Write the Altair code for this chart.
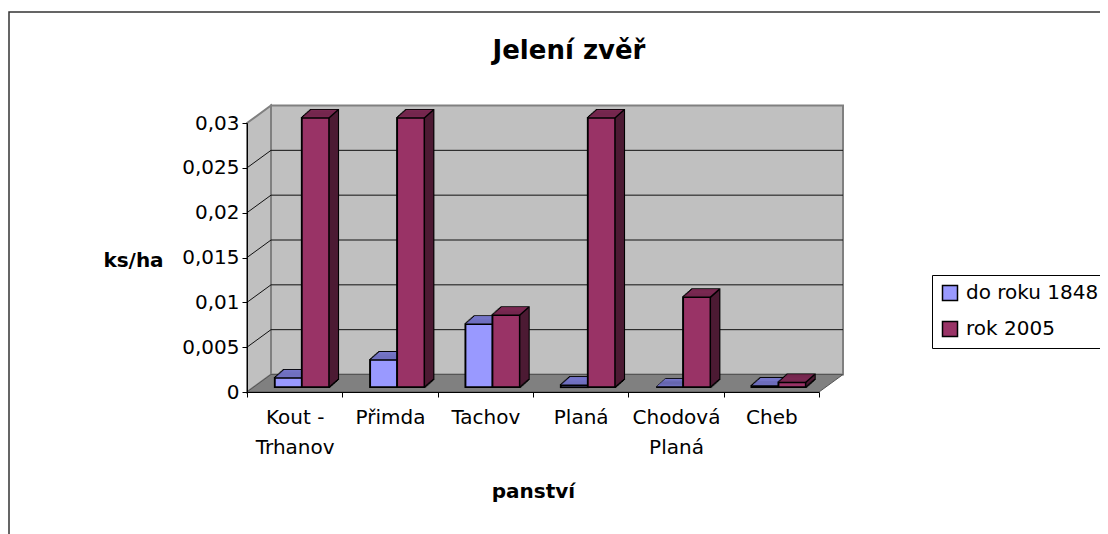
import json
import altair as alt
import pandas as pd

# ---------------- data ----------------
chart_title = "Jelení zvěř"
categories = ["Kout - Trhanov", "Přimda", "Tachov", "Planá", "Chodová Planá", "Cheb"]
label_lines = [["Kout -", "Trhanov"], ["Přimda"], ["Tachov"], ["Planá"], ["Chodová", "Planá"], ["Cheb"]]
series_names = ["do roku 1848", "rok 2005"]
values_1848 = [0.001, 0.003, 0.007, 0.0002, 0.0, 0.0001]
values_2005 = [0.03, 0.03, 0.008, 0.03, 0.01, 0.0005]
y_ticks = [0, 0.005, 0.01, 0.015, 0.02, 0.025, 0.03]
grid_values = [0.005, 0.01, 0.015, 0.02, 0.025]

df = pd.DataFrame({
    "panstvi": categories * 2,
    "series": [series_names[0]] * len(categories) + [series_names[1]] * len(categories),
    "value": values_1848 + values_2005,
})
grid_df = pd.DataFrame({"v": grid_values})
title_df = pd.DataFrame({"t": [chart_title]})

# ---------------- geometry / style ----------------
W, H = 572, 269          # front plane of the 3D box
DX, DY = 24, 17.5        # depth of the box
BAR_W = 27
BAR_LIFT = 5
EX, EY = 9, 8            # depth of the bars
N = 9
bar_centers = [-6.2, 20.8]
front_colors = ["#9999FF", "#993366"]
top_colors = ["#7575C8", "#7A2952"]
side_colors = ["#4C4C80", "#4C1A33"]
FONT = "DejaVu Sans"

one = pd.DataFrame({"d": [0]})
left_wall_df = pd.DataFrame({"px": [0, DX], "top": [0, -DY], "bot": [H, H - DY]})
floor_df = pd.DataFrame({"px": [0, DX, W, W + DX],
                         "top": [H, H - DY, H - DY, H - DY],
                         "bot": [H, H, H, H - DY]})

label_expr = "".join(
    f"datum.value == {json.dumps(c, ensure_ascii=False)} ? {json.dumps(l, ensure_ascii=False)} : "
    for c, l in zip(categories, label_lines)
) + "datum.label"


def xcat(axis=None):
    return alt.X("panstvi:N", sort=categories,
                 scale=alt.Scale(domain=categories, paddingInner=0, paddingOuter=0),
                 axis=axis)


def yval(axis=None):
    return alt.Y("value:Q", scale=alt.Scale(domain=[0, 0.03], nice=False, zero=True), axis=axis)


def px_x(field):
    return alt.X(f"{field}:Q", scale=alt.Scale(domain=[0, W], range=[0, W], nice=False, zero=False), axis=None)


def px_y(field):
    return alt.Y(f"{field}:Q", scale=alt.Scale(domain=[0, H], range=[0, H], nice=False, zero=False), axis=None)


x_axis = alt.Axis(
    title="panství", tickBand="extent", grid=False, domainColor="black", domainWidth=1,
    tickColor="black", tickSize=5, labelAngle=0, labelFont=FONT, labelFontSize=20,
    labelColor="black", labelPadding=10, labelLineHeight=30, labelExpr=label_expr,
    labelOverlap=False, titleFont=FONT, titleFontSize=20, titleFontWeight="bold",
    titleColor="black", titleY=105.5, titleBaseline="alphabetic", zindex=1,
)
y_axis = alt.Axis(
    title="ks/ha", values=y_ticks, format="~g", labelExpr="replace(datum.label, '.', ',')",
    grid=False, domainColor="black", tickColor="black", tickSize=5, labelPadding=3,
    labelFont=FONT, labelFontSize=20, labelColor="black",
    titleFont=FONT, titleFontSize=20, titleFontWeight="bold", titleColor="black",
    titleAngle=0, titleX=-114, titleY=143, titleAlign="center", titleBaseline="alphabetic",
    zindex=1,
)
legend = alt.Legend(
    title=None, orient="none", legendX=685, legendY=152, strokeColor="black", padding=8,
    symbolType="square", symbolSize=225, symbolStrokeColor="black", symbolStrokeWidth=1.5,
    symbolOpacity=1, labelFont=FONT, labelFontSize=20, labelColor="black", labelOffset=6,
    rowPadding=14, labelExpr="datum.label + '\u00a0\u00a0\u00a0\u00a0\u00a0'",
)
color = alt.Color("series:N", scale=alt.Scale(domain=series_names, range=front_colors), legend=legend)

layers = []
# outer chart border
layers.append(alt.Chart(one).mark_rect(fillOpacity=0, stroke="#333333", strokeWidth=1.5).encode(
    x=alt.value(-238), x2=alt.value(W + 400), y=alt.value(-111), y2=alt.value(H + 300)))
# chart title
layers.append(alt.Chart(title_df).mark_text(font=FONT, fontSize=26, fontWeight="bold", color="black",
                                            align="center", baseline="alphabetic").encode(
    text="t:N", x=alt.value(322), y=alt.value(-64)))
# back wall
layers.append(alt.Chart(one).mark_rect(fill="#C0C0C0", stroke="#808080", strokeWidth=2).encode(
    x=alt.value(DX), x2=alt.value(W + DX), y=alt.value(-DY), y2=alt.value(H - DY)))
# left wall
layers.append(alt.Chart(left_wall_df).mark_area(fill="#C0C0C0", stroke="#808080", strokeWidth=2).encode(
    x=px_x("px"), y=px_y("top"), y2=alt.Y2("bot")))
# floor
layers.append(alt.Chart(floor_df).mark_area(fill="#808080", stroke="#555555", strokeWidth=1).encode(
    x=px_x("px"), y=px_y("top"), y2=alt.Y2("bot")))
# back wall grid lines
layers.append(alt.Chart(grid_df).mark_rule(color="#111111", strokeWidth=1, yOffset=-DY).encode(
    y=alt.Y("v:Q", scale=alt.Scale(domain=[0, 0.03], nice=False, zero=True), axis=None),
    x=alt.value(DX), x2=alt.value(W + DX)))
# left wall grid lines
layers.append(alt.Chart(grid_df).mark_rule(color="#111111", strokeWidth=1, y2Offset=-DY).encode(
    y=alt.Y("v:Q", scale=alt.Scale(domain=[0, 0.03], nice=False, zero=True), axis=None),
    y2=alt.Y2("v:Q"), x=alt.value(0), x2=alt.value(DX)))

for i in range(2):
    base = alt.Chart(df).transform_filter(alt.datum.series == series_names[i])
    c = bar_centers[i]
    # outline of the prism
    for k in range(N + 1):
        ox = c + k * EX / N
        oy = -BAR_LIFT - k * EY / N
        layers.append(base.mark_bar(size=BAR_W, xOffset=ox, yOffset=oy, y2Offset=oy,
                                    fill=side_colors[i], stroke="black", strokeWidth=2.2)
                      .encode(x=xcat(), y=yval()))
    # side fill
    for k in range(N + 1):
        ox = c + k * EX / N
        oy = -BAR_LIFT - k * EY / N
        layers.append(base.mark_bar(size=BAR_W, xOffset=ox, yOffset=oy, y2Offset=oy,
                                    fill=side_colors[i], strokeWidth=0)
                      .encode(x=xcat(), y=yval()))
    # top face strips
    for k in range(N):
        ox = c + (k + 0.5) * EX / N
        y_top = -BAR_LIFT - (k + 1) * EY / N - 0.15
        y_bot = -BAR_LIFT - k * EY / N + 0.15
        layers.append(base.mark_bar(size=BAR_W, xOffset=ox, yOffset=y_top, y2Offset=y_bot,
                                    fill=top_colors[i], strokeWidth=0)
                      .encode(x=xcat(), y=yval(), y2=alt.Y2("value:Q")))
    # edge between top and side
    layers.append(base.mark_rule(color="black", strokeWidth=1.5,
                                 xOffset=c + BAR_W / 2, x2Offset=c + BAR_W / 2 + EX,
                                 yOffset=-BAR_LIFT, y2Offset=-BAR_LIFT - EY)
                  .encode(x=xcat(), x2=alt.X2("panstvi:N"), y=yval(), y2=alt.Y2("value:Q")))
    # front face
    layers.append(base.mark_bar(size=BAR_W, xOffset=c, yOffset=-BAR_LIFT, y2Offset=-BAR_LIFT,
                                stroke="black", strokeWidth=1.5, opacity=1)
                  .encode(x=xcat(x_axis if i == 0 else None),
                          y=yval(y_axis if i == 0 else None),
                          color=color))

chart = (
    alt.layer(*layers)
    .resolve_scale(x="independent", y="independent", color="shared")
    .properties(
        width=W, height=H,
        padding={"left": 239, "top": 115, "right": 281, "bottom": 142},
        autosize=alt.AutoSizeParams(type="none"),
        background="white",
    )
    .configure_view(stroke=None)
)

chart.save("out.html", embed_options={"renderer": "svg", "actions": False})
